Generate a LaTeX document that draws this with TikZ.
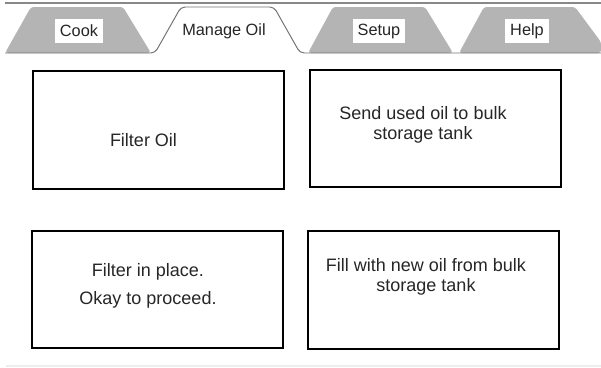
\documentclass[tikz,border=0pt]{standalone}
\usepackage{fontspec}
\setmainfont{Liberation Sans}
\usetikzlibrary{positioning}
\definecolor{tabgray}{RGB}{180,180,180}
\definecolor{rulegray}{RGB}{115,115,115}
\definecolor{faintgray}{RGB}{238,238,238}

\begin{document}
\begin{tikzpicture}[x=0.025cm,y=-0.025cm,
  panel/.style={draw,line width=1.4pt,minimum width=6.25cm,minimum height=2.93cm},
  msg/.style={font=\fontsize{12.8}{14.2}\selectfont,align=center,text=black!85},
  tab/.style={fill=tabgray,rounded corners=2pt},
  tablbl/.style={fill=white,font=\fontsize{11.6}{13}\selectfont,text=black!85,inner xsep=3.5pt,minimum height=0.575cm}]
\useasboundingbox (0,0) rectangle (601,368);
% tab strip
\draw[rulegray!85,line width=1pt] (5,3) -- (601,3);
\fill[tab] (5,53) -- (31,7) -- (123,7) -- (151,53) -- cycle;
\fill[tab] (308,53) -- (333,7) -- (425,7) -- (453,53) -- cycle;
\fill[tab] (459,53) -- (484,7) -- (575,7) -- (601,42) -- (601,53) -- cycle;
\draw[rulegray,line width=0.7pt,rounded corners=3pt] (5,53) -- (155,53) -- (181,7) -- (274,7) -- (300,53) -- (601,53);
\node[tablbl] (cook) at (79,31) {Cook};
\node[font=\fontsize{11.6}{13}\selectfont,text=black!85] (manage) at (224,31) {Manage Oil};
\node[tablbl] (setup) at (379,31) {Setup};
\node[tablbl] (help) at (527,31) {Help};
% panels
\node[panel] (filter) at (158.5,130) {};
\node[panel] (send) at (435.5,128.5) {};
\node[panel] (inplace) at (157.5,289.5) {};
\node[panel] (fill) at (433.5,290) {};
\node[msg] (filtertxt) at (143.5,140) {Filter Oil};
\node[msg] (sendtxt) at (423,125) {Send used oil to bulk\\storage tank};
\node[msg] (inplacetxt) at (148,286) {Filter in place.\\[5.7pt]Okay to proceed.};
\node[msg] (filltxt) at (426,277) {Fill with new oil from bulk\\storage tank};
\draw[faintgray,line width=1pt] (6,366) -- (601,366);
\end{tikzpicture}
\end{document}
